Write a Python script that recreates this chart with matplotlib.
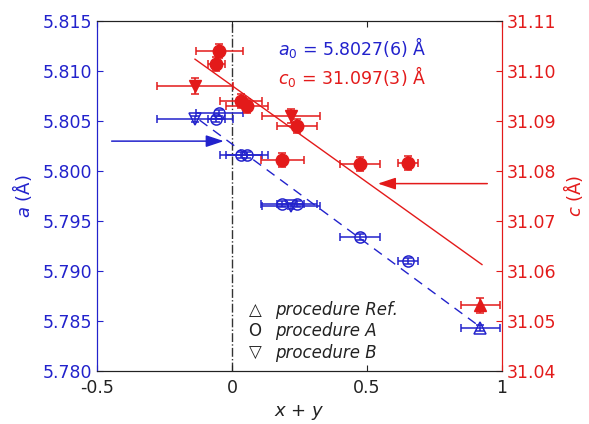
import matplotlib
matplotlib.use("Agg")
import matplotlib.pyplot as plt
import numpy as np

plt.rcParams['font.family'] = ['DejaVu Sans']
plt.rcParams['mathtext.fontset'] = 'dejavusans'

BLUE = '#2222cc'
RED = '#e31a1a'

# procedure Ref. (up triangles)
x_ref = [0.919]
xerr_ref = [0.072]
a_ref = [5.7843]
aerr_ref = [0.0003]
c_ref = [31.0532]
cerr_ref = [0.0015]

# procedure A (circles)
x_A = [-0.048, -0.058, 0.035, 0.054, 0.187, 0.242, 0.474, 0.652]
xerr_A = [0.087, 0.032, 0.078, 0.078, 0.078, 0.074, 0.074, 0.037]
a_A = [5.8058, 5.8052, 5.8016, 5.8016, 5.7967, 5.7967, 5.7934, 5.7910]
aerr_A = [0.0003] * 8
c_A = [31.104, 31.1014, 31.094, 31.093, 31.0823, 31.089, 31.0815, 31.0817]
cerr_A = [0.0014] * 8

# procedure B (down triangles)
x_B = [-0.137, 0.220]
xerr_B = [0.139, 0.107]
a_B = [5.8052, 5.7965]
aerr_B = [0.0003, 0.0003]
c_B = [31.097, 31.091]
cerr_B = [0.0016, 0.0014]

# linear fits
fit_a_x = [-0.12, 0.92]
fit_a_y = [5.8051, 5.7844]
fit_c_x = [-0.137, 0.926]
fit_c_y = [31.1024, 31.0613]

# arrows (start, end) and level
arrow_a_x = [-0.456, -0.02]
arrow_a_y = 5.8030
arrow_c_x = [0.956, 0.53]
arrow_c_y = 31.0775

fig = plt.figure(figsize=(5.89, 4.24), dpi=100)
ax = fig.add_axes([0.1647, 0.125, 0.6875, 0.825])
ax2 = ax.twinx()

ax.set_xlim(-0.5, 1.0)
ax.set_ylim(5.780, 5.815)
ax2.set_ylim(31.04, 31.11)

# vertical line at 0
ax.axvline(0, color='#333333', lw=1.0, ls='-.', zorder=1)

ekw = dict(elinewidth=1.1, capsize=3, capthick=1.1, ls='none')
ms = 8
# blue (a)
ax.plot(fit_a_x, fit_a_y, color=BLUE, lw=1.0, ls=(0, (7, 5)), zorder=2)
ax.errorbar(x_A, a_A, xerr=xerr_A, yerr=aerr_A, marker='o', ms=ms, mfc='none',
            mec=BLUE, color=BLUE, mew=1.1, **ekw)
ax.errorbar(x_B, a_B, xerr=xerr_B, yerr=aerr_B, marker='v', ms=ms, mfc='none',
            mec=BLUE, color=BLUE, mew=1.1, **ekw)
ax.errorbar(x_ref, a_ref, xerr=xerr_ref, yerr=aerr_ref, marker='^', ms=ms, mfc='none',
            mec=BLUE, color=BLUE, mew=1.1, **ekw)
ax.annotate('', xy=(arrow_a_x[1], arrow_a_y), xytext=(arrow_a_x[0], arrow_a_y),
            arrowprops=dict(arrowstyle='-|>,head_length=0.6,head_width=0.2',
                            color=BLUE, lw=1.1, mutation_scale=18))

# red (c)
ax2.plot(fit_c_x, fit_c_y, color=RED, lw=1.0, zorder=2)
ax2.errorbar(x_A, c_A, xerr=xerr_A, yerr=cerr_A, marker='o', ms=ms + 1, mfc=RED,
             mec=RED, color=RED, **ekw)
ax2.errorbar(x_B, c_B, xerr=xerr_B, yerr=cerr_B, marker='v', ms=ms + 1, mfc=RED,
             mec=RED, color=RED, **ekw)
ax2.errorbar(x_ref, c_ref, xerr=xerr_ref, yerr=cerr_ref, marker='^', ms=ms + 1, mfc=RED,
             mec=RED, color=RED, **ekw)
ax2.annotate('', xy=(arrow_c_x[1], arrow_c_y), xytext=(arrow_c_x[0], arrow_c_y),
             arrowprops=dict(arrowstyle='-|>,head_length=0.6,head_width=0.2',
                             color=RED, lw=1.1, mutation_scale=18))

# ticks
ax.set_xticks([-0.5, 0, 0.5, 1])
ax.set_xticklabels(['-0.5', '0', '0.5', '1'])
ax.set_yticks([5.780, 5.785, 5.790, 5.795, 5.800, 5.805, 5.810, 5.815])
ax.set_yticklabels(['5.780', '5.785', '5.790', '5.795', '5.800', '5.805', '5.810', '5.815'])
ax2.set_yticks([31.04, 31.05, 31.06, 31.07, 31.08, 31.09, 31.10, 31.11])
ax2.set_yticklabels(['31.04', '31.05', '31.06', '31.07', '31.08', '31.09', '31.10', '31.11'])

ax.tick_params(axis='x', direction='in', top=True, length=4, labelsize=12.5, colors='#222222', pad=6)
ax.tick_params(axis='y', direction='in', length=4, labelsize=12.5, colors=BLUE)
ax2.tick_params(axis='y', direction='in', length=4, labelsize=12.5, colors=RED)

for a_ in (ax, ax2):
    a_.spines['left'].set_color(BLUE)
    a_.spines['right'].set_color(RED)
    a_.spines['top'].set_color('#222222')
    a_.spines['bottom'].set_color('#222222')

ax.set_xlabel(r'$x$ + $y$', fontsize=13, color='#222222')
ax.set_ylabel(r'$a$ (Å)', fontsize=13, color=BLUE, labelpad=6)
ax2.set_ylabel(r'$c$ (Å)', fontsize=13, color=RED, labelpad=3)

ax.text(0.447, 0.925, r'$a_0$ = 5.8027(6) Å', transform=ax.transAxes, color=BLUE,
        fontsize=12.5, va='center', ha='left')
ax.text(0.447, 0.842, r'$c_0$ = 31.097(3) Å', transform=ax.transAxes, color=RED,
        fontsize=12.5, va='center', ha='left')

leg_sym = ['△', 'O', '▽']
leg_txt = ['procedure Ref.', 'procedure A', 'procedure B']
leg_y = [0.175, 0.115, 0.052]
for s, t, yy in zip(leg_sym, leg_txt, leg_y):
    ax.text(0.390, yy, s, transform=ax.transAxes, fontsize=12, color='#222222',
            ha='center', va='center')
    ax.text(0.44, yy, t, transform=ax.transAxes, fontsize=12, color='#222222',
            ha='left', va='center', style='italic')

fig.savefig('out.png', dpi=100)
